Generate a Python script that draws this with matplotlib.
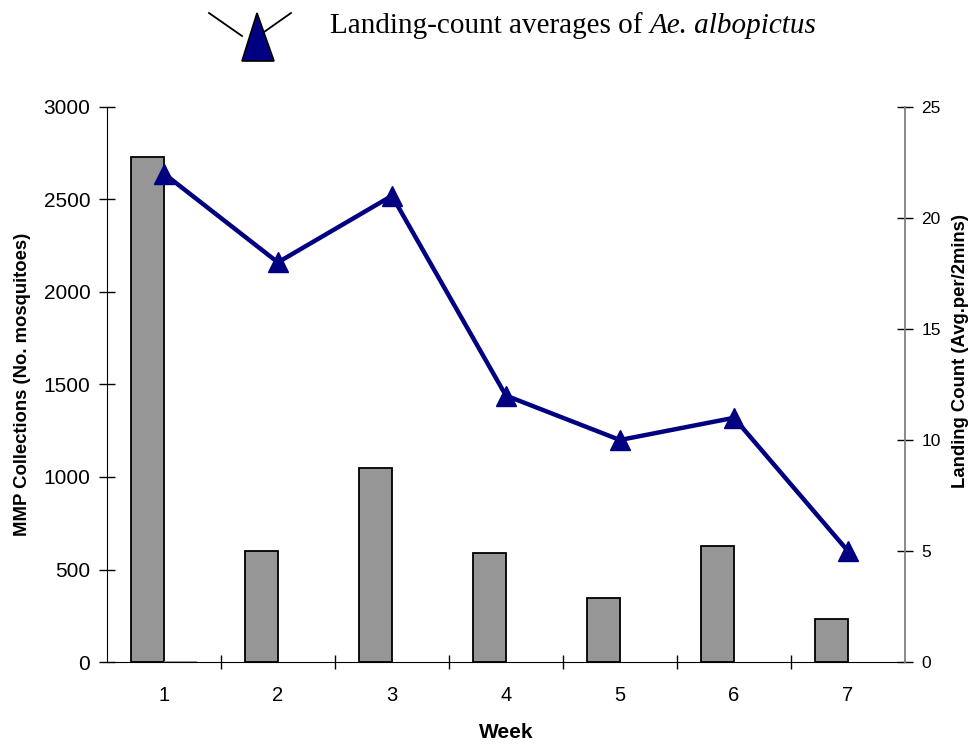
import numpy as np
import matplotlib.pyplot as plt
from matplotlib.lines import Line2D
from matplotlib.patches import Polygon

# weekly MMP collections and landing counts
weeks = [1, 2, 3, 4, 5, 6, 7]
week_labels = ['1', '2', '3', '4', '5', '6', '7']
mmp_counts = [2730, 600, 1050, 590, 345, 625, 230]
other_counts = [0, np.nan, np.nan, np.nan, np.nan, np.nan, np.nan]
landing_avg = [22, 18, 21, 12, 10, 11, 5]

plt.rcParams['font.family'] = ['Liberation Sans', 'DejaVu Sans']

fig = plt.figure(figsize=(9.72, 7.45), dpi=100)
ax = fig.add_axes([0.110, 0.1114, 0.821, 0.745])

x = np.array(weeks, dtype=float)
bw = 0.29
ax.bar(x - bw / 2, mmp_counts, width=bw, color='#969696', edgecolor='black', linewidth=1.3)
ax.bar(x + bw / 2, other_counts, width=bw, color='#969696', edgecolor='#969696', linewidth=1.3)

ax.set_xlim(0.5, 7.5)
ax.set_ylim(0, 3000)
ax.set_yticks(range(0, 3001, 500))
ax.set_xticks(x)
ax.set_xticklabels(week_labels)
ax.set_xticks(np.arange(1.5, 7.5, 1.0), minor=True)
ax.tick_params(axis='x', which='major', length=0, labelsize=14.5, pad=17)
ax.tick_params(axis='x', which='minor', length=10, direction='inout', width=1)
ax.tick_params(axis='y', length=12, direction='inout', labelsize=15, width=1, pad=6)
for s in ['top', 'right']:
    ax.spines[s].set_visible(False)
ax.set_xlabel('Week', fontsize=15, fontweight='bold', labelpad=13)
ax.set_ylabel('MMP Collections (No. mosquitoes)', fontsize=13.3, fontweight='bold', labelpad=9)

ax2 = ax.twinx()
ax2.plot(x, landing_avg, color='#000080', linewidth=3.2, marker='^', markersize=14, clip_on=False)
ax2.set_ylim(0, 25)
ax2.set_yticks(range(0, 26, 5))
ax2.tick_params(axis='y', length=12, direction='inout', labelsize=12.5, width=1, color='black', pad=6)
for s in ['top', 'left', 'bottom']:
    ax2.spines[s].set_visible(False)
ax2.spines['right'].set_color('#808080')
ax2.spines['right'].set_linewidth(1.3)
ax2.set_ylabel('Landing Count (Avg.per/2mins)', fontsize=13.3, fontweight='bold')
ax2.yaxis.set_label_coords(1.059, 0.56)

# legend key drawn above the plot
W, H = 972.0, 745.0
fig.add_artist(Line2D([209 / W, 242 / W], [1 - 13 / H, 1 - 36 / H], color='black', linewidth=1.3))
fig.add_artist(Line2D([291 / W, 264 / W], [1 - 13 / H, 1 - 32 / H], color='black', linewidth=1.3))
fig.add_artist(Polygon([[257 / W, 1 - 13 / H], [242 / W, 1 - 61 / H], [274 / W, 1 - 61 / H]],
                       closed=True, facecolor='#000080', edgecolor='black', linewidth=1.2,
                       transform=fig.transFigure))
t = fig.text(0.339, 0.9655, 'Landing-count averages of ', fontsize=21,
             family=['Liberation Serif', 'DejaVu Serif'], va='center', ha='left')
fig.canvas.draw()
bb = t.get_window_extent()
fig.text(bb.x1 / fig.bbox.width, 0.9655, 'Ae. albopictus', fontsize=21, style='italic',
         family=['Liberation Serif', 'DejaVu Serif'], va='center', ha='left')

fig.savefig('out.png', dpi=100)
